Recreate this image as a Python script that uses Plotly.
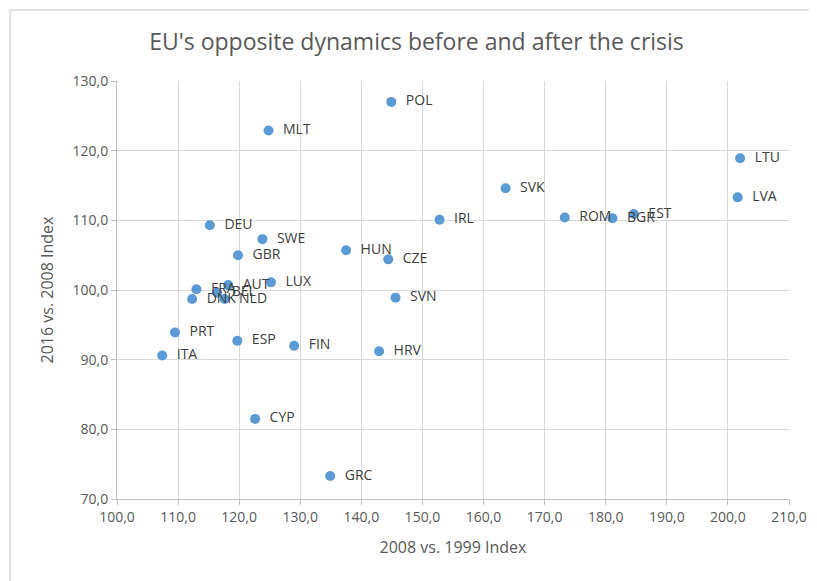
import plotly.graph_objects as go

countries = ["POL", "MLT", "LTU", "LVA", "SVK", "ROM", "BGR", "EST", "IRL", "DEU",
             "SWE", "HUN", "GBR", "CZE", "LUX", "AUT", "FRA", "BEL", "DNK", "NLD",
             "PRT", "ITA", "ESP", "FIN", "HRV", "SVN", "CYP", "GRC"]
idx_2008_vs_1999 = [144.9, 124.8, 202.0, 201.6, 163.6, 173.3, 181.1, 184.6, 152.8, 115.2,
                    123.8, 137.5, 119.8, 144.4, 125.2, 118.2, 113.0, 116.4, 112.3, 117.6,
                    109.5, 107.4, 119.7, 129.0, 142.9, 145.6, 122.6, 134.9]
idx_2016_vs_2008 = [127.0, 122.9, 118.9, 113.3, 114.6, 110.4, 110.3, 110.9, 110.1, 109.3,
                    107.3, 105.7, 105.0, 104.4, 101.1, 100.7, 100.1, 99.6, 98.7, 98.7,
                    93.9, 90.6, 92.7, 92.0, 91.2, 98.9, 81.5, 73.3]

x_ticks = list(range(100, 211, 10))
y_ticks = list(range(70, 131, 10))

FONT = "Open Sans, sans-serif"

fig = go.Figure()
fig.add_trace(go.Scatter(
    x=idx_2008_vs_1999, y=idx_2016_vs_2008, text=["  " + c for c in countries],
    mode="markers+text", textposition="middle right",
    marker=dict(color="#5B9BD5", size=10),
    textfont=dict(family=FONT, size=14, color="#404040"),
    showlegend=False, hoverinfo="skip"))

axis_common = dict(showgrid=True, gridcolor="#D9D9D9", gridwidth=1,
                   showline=True, linecolor="#BFBFBF", linewidth=1,
                   ticks="outside", tickcolor="#BFBFBF", ticklen=5,
                   tickfont=dict(family=FONT, size=14, color="#595959"),
                   zeroline=False)

fig.update_layout(
    width=817, height=581,
    margin=dict(l=109, r=36, t=73, b=90),
    paper_bgcolor="white", plot_bgcolor="white",
    title=dict(text="EU's opposite dynamics before and after the crisis",
               x=0.5, xanchor="center", y=1 - 34/581, yanchor="middle",
               font=dict(family=FONT, size=23, color="#595959")),
    xaxis=dict(range=[100, 210], tickvals=x_ticks,
               ticktext=[f"{v},0" for v in x_ticks],
               title=dict(text="2008 vs. 1999 Index", standoff=17,
                          font=dict(family=FONT, size=16, color="#595959")),
               **axis_common),
    yaxis=dict(range=[70, 130], tickvals=y_ticks,
               ticktext=[f"{v},0" for v in y_ticks],
               title=dict(text="2016 vs. 2008 Index", standoff=14,
                          font=dict(family=FONT, size=16, color="#595959")),
               **axis_common),
    shapes=[dict(type="rect", xref="paper", yref="paper",
                 x0=-0.159, x1=1.3, y0=-0.4, y1=1.170,
                 line=dict(color="#D9D9D9", width=1.5), fillcolor="rgba(0,0,0,0)")],
)

fig.write_html("out.html")
